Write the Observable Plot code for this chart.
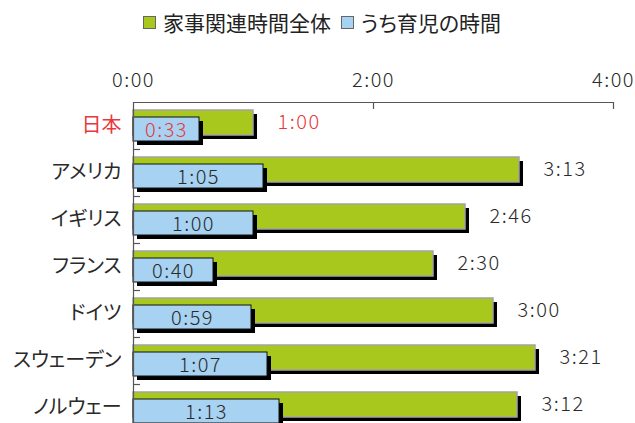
<!DOCTYPE html>
<html>
<head>
<meta charset="utf-8">
<script src="https://cdn.jsdelivr.net/npm/d3@7"></script>
<script src="https://cdn.jsdelivr.net/npm/@observablehq/plot@0.6"></script>
<style>
  body { margin: 0; background: #fff; }
  #legend { height: 44px; display: flex; justify-content: center; align-items: center;
    font: 21px "Noto Sans CJK JP", sans-serif; color: #222; padding-left: 9px; box-sizing: border-box;
    font-feature-settings: "palt"; }
  #legend .sw { display: inline-block; width: 11px; height: 11px; border: 1px solid #666; margin-right: 7px; }
  #legend .item { display: flex; align-items: center; margin: 0 5px; }
  svg text { font-feature-settings: "palt"; }
  .num text { letter-spacing: 1.5px; font-weight: 300; }
</style>
</head>
<body>
<div id="legend"></div>
<div id="chart"></div>
<script>
const countries = ["日本", "アメリカ", "イギリス", "フランス", "ドイツ", "スウェーデン", "ノルウェー"];
const totalMinutes = [60, 193, 166, 150, 180, 201, 192];
const childcareMinutes = [33, 65, 60, 40, 59, 67, 73];
const tickValues = [0, 120, 240];
const seriesNames = ["家事関連時間全体", "うち育児の時間"];

const GREEN = "#a8c81e", BLUE = "#a7d2f2", RED = "#e8383d", TEXT = "#2a2a2a";
const fmt = m => `${Math.floor(m / 60)}:${String(m % 60).padStart(2, "0")}`;

const rows = countries.map((c, i) => ({country: c, total: totalMinutes[i], child: childcareMinutes[i]}));
const colorOf = c => c === "日本" ? RED : TEXT;

// legend
const legend = document.getElementById("legend");
[[seriesNames[0], GREEN], [seriesNames[1], BLUE]].forEach(([name, col]) => {
  const it = document.createElement("span");
  it.className = "item";
  it.innerHTML = `<span class="sw" style="background:${col}"></span>${name}`;
  legend.appendChild(it);
});

const font = "Noto Sans CJK JP, sans-serif";
const chart = Plot.plot({
  width: 635,
  height: 387,
  marginTop: 58,
  marginBottom: 0,
  marginLeft: 133,
  marginRight: 22,
  style: {fontFamily: font, fontSize: "20px", color: TEXT, background: "#fff"},
  x: {domain: [0, 240], axis: null},
  y: {domain: countries, padding: 0, axis: null},
  marks: [
    // green shadow + bar
    Plot.barX(rows, {y: "country", x1: 0, x2: "total", insetTop: 8, insetBottom: 14, dx: 4, dy: 4, fill: "#000"}),
    Plot.barX(rows, {y: "country", x1: 0, x2: "total", insetTop: 8, insetBottom: 14, fill: GREEN, stroke: "#a3a3a3", strokeWidth: 1.5}),
    // blue shadow + bar
    Plot.barX(rows, {y: "country", x1: 0, x2: "child", insetTop: 15, insetBottom: 8, dx: 4, dy: 4, fill: "#000"}),
    Plot.barX(rows, {y: "country", x1: 0, x2: "child", insetTop: 15, insetBottom: 8, fill: BLUE, stroke: "#111", strokeWidth: 1}),
    // frame lines
    Plot.ruleX([0], {stroke: "#555", strokeWidth: 1.2}),
    Plot.ruleY(countries.slice(0, 1), {y: d => d, dy: -23.5, x1: 0, x2: 240, stroke: "#555", strokeWidth: 1.2}),
    Plot.tickX(tickValues.slice(1), {x: d => d, y: () => countries[0], insetBottom: 40, stroke: "#555", strokeWidth: 1.2}),
    Plot.ruleY(countries.slice(0, -1), {y: d => d, dy: 23.5, x1: 0, x2: 3.5, stroke: "#555", strokeWidth: 1.2}),
    // axes
    Plot.axisX({anchor: "top", ticks: tickValues, tickSize: 0, tickPadding: 16, tickFormat: fmt, fontSize: 20, fill: TEXT, label: null, className: "num"}),
    Plot.axisY({anchor: "left", tickSize: 0, tickPadding: 12, fontSize: 20, fill: d => colorOf(d), label: null}),
    // value labels
    Plot.text(rows, {y: "country", x: "total", text: d => fmt(d.total), dx: 24, dy: -3, textAnchor: "start", fill: d => colorOf(d.country), fontSize: 20, className: "num"}),
    Plot.text(rows, {y: "country", x: d => d.child / 2, text: d => fmt(d.child), dy: 5, textAnchor: "middle", fill: d => colorOf(d.country), fontSize: 20, className: "num"})
  ]
});
document.getElementById("chart").appendChild(chart);
</script>
</body>
</html>
